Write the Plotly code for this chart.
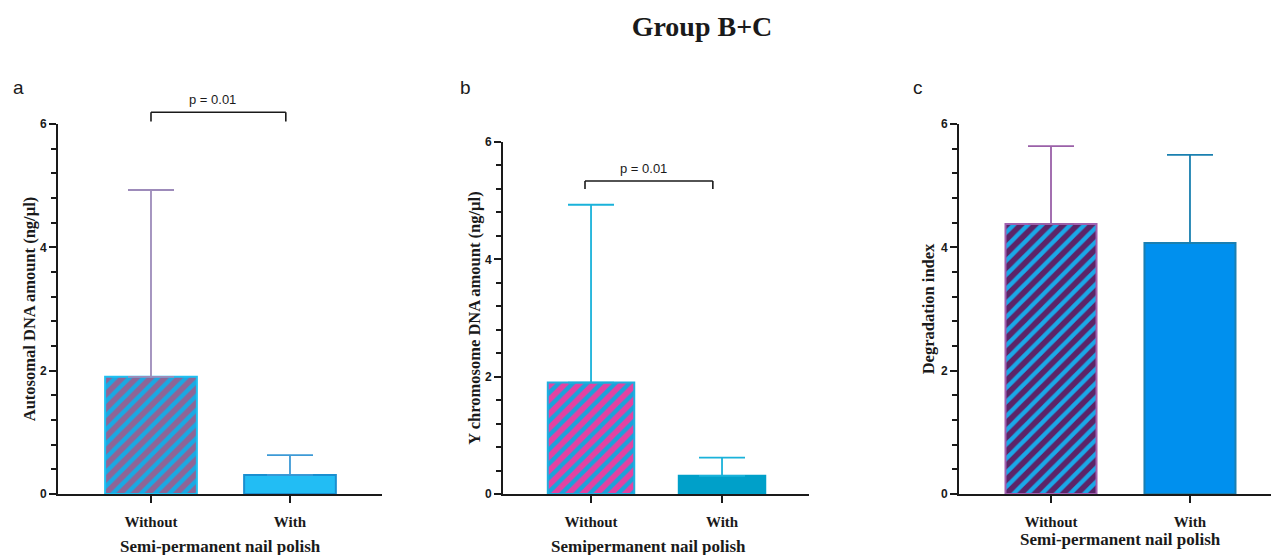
import plotly.graph_objects as go

W, H = 1271, 555

# ---------------- data ----------------
categories = ["Without", "With"]

auto_mean = [1.90, 0.31]
auto_err = [3.03, 0.32]

ychr_mean = [1.90, 0.31]
ychr_err = [3.03, 0.31]

deg_mean = [4.38, 4.07]
deg_err = [1.26, 1.43]

y_ticks = [0, 2, 4, 6]
y_tick_labels = ["0", "2", "4", "6"]

p_label = "p = 0.01"

# ---------------- styling ----------------
SERIF = "Liberation Serif"
SANS = "Liberation Sans"
INK = "#1a1a1a"

panels = [
    dict(
        means=auto_mean, errs=auto_err,
        ytitle="Autosomal DNA amount (ng/µl)",
        xtitle="Semi-permanent nail polish",
        xdom=(58, 382), xrange=(-0.669, 1.662), ydom=(124, 494), bw=0.66,
        fills=["#8e6596", "#22bdf4"], borders=["#1ec0f2", "#1a8fd0"],
        stripes=["#19a9e3", None], errc=["#9d8bba", "#3d9ad6"],
        standoff=0, xtitle_x=0.5, label="a", label_xy=(18, 88),
        bracket=dict(x0=0.0, x1=0.97, ytop=6.19, yend=6.04, ytext=6.40, xtext=0.44),
    ),
    dict(
        means=ychr_mean, errs=ychr_err,
        ytitle="Y chromosome DNA amount (ng/µl)",
        xtitle="Semipermanent nail polish",
        xdom=(503, 809), xrange=(-0.672, 1.664), ydom=(142, 494), bw=0.66,
        fills=["#e342a2", "#00a0c9"], borders=["#1fb0e0", "#00a0c9"],
        stripes=["#1aa3da", None], errc=["#1ab2da", "#1ab2da"],
        standoff=0, xtitle_x=0.44, label="b", label_xy=(465, 88),
        bracket=dict(x0=-0.046, x1=0.93, ytop=5.335, yend=5.20, ytext=5.54, xtext=0.40),
    ),
    dict(
        means=deg_mean, errs=deg_err,
        ytitle="Degradation index",
        xtitle="Semi-permanent nail polish",
        xdom=(959, 1271), xrange=(-0.662, 1.583), ydom=(124, 494), bw=0.655,
        fills=["#5c2468", "#0090ee"], borders=["#a261b0", "#1a7fb2"],
        stripes=["#1aa8e8", None], errc=["#9a60a8", "#1a80b0"],
        standoff=2, xtitle_x=0.5, label="c", label_xy=(918, 88),
        bracket=None,
    ),
]

fig = go.Figure()
annotations = []
shapes = []
layout_axes = {}

for i, p in enumerate(panels):
    n = "" if i == 0 else str(i + 1)
    xref, yref = "x" + n, "y" + n
    for j, cat in enumerate(categories):
        if p["stripes"][j]:
            pattern = dict(shape="/", fgcolor=p["stripes"][j], bgcolor=p["fills"][j],
                           size=10, solidity=0.42, fillmode="replace")
        else:
            pattern = dict(shape="")
        fig.add_trace(go.Bar(
            x=[cat], y=[p["means"][j]], width=[p["bw"]],
            marker=dict(color=p["fills"][j],
                        line=dict(color=p["borders"][j], width=2),
                        pattern=pattern),
            error_y=dict(type="data", symmetric=False, array=[p["errs"][j]],
                         arrayminus=[0], color=p["errc"][j], thickness=1.8, width=23),
            xaxis=xref, yaxis=yref, showlegend=False, hoverinfo="x+y",
        ))

    x0p, x1p = p["xdom"]
    ytp, ybp = p["ydom"]
    layout_axes["xaxis" + n] = dict(
        domain=[x0p / W, x1p / W], anchor=yref, type="category",
        categoryorder="array", categoryarray=categories,
        range=list(p["xrange"]), showline=True, linewidth=2, linecolor=INK,
        ticks="outside", ticklen=7, tickwidth=2, tickcolor=INK,
        tickfont=dict(family=SERIF, size=15, color=INK, weight="bold"),
        ticklabelstandoff=6, showgrid=False, zeroline=False, fixedrange=True,
        automargin=False,
    )
    layout_axes["yaxis" + n] = dict(
        domain=[1 - ybp / H, 1 - ytp / H], anchor=xref, range=[0, 6],
        tickmode="array", tickvals=y_ticks, ticktext=y_tick_labels,
        showline=True, linewidth=2, linecolor=INK,
        ticks="outside", ticklen=7, tickwidth=2, tickcolor=INK,
        minor=dict(dtick=0.4, tick0=0, ticks="outside", ticklen=5, tickwidth=1.5,
                   tickcolor=INK, showgrid=False),
        tickfont=dict(family=SANS, size=12, color=INK, weight="bold"),
        title=dict(text=p["ytitle"], standoff=p["standoff"],
                   font=dict(family=SERIF, size=16.5, color=INK, weight="bold")),
        showgrid=False, zeroline=False, fixedrange=True, automargin=False,
    )

    # x-axis title
    annotations.append(dict(
        text=p["xtitle"], xref=xref, yref="paper", x=p["xtitle_x"],
        y=1 - (546 if i < 2 else 539) / H,
        xanchor="center", yanchor="middle", showarrow=False,
        font=dict(family=SERIF, size=17, color=INK, weight="bold"),
    ))
    # panel letter
    lx, ly = p["label_xy"]
    annotations.append(dict(
        text=p["label"], xref="paper", yref="paper", x=lx / W, y=1 - ly / H,
        xanchor="center", yanchor="middle", showarrow=False,
        font=dict(family=SANS, size=19, color=INK),
    ))
    # significance bracket
    b = p["bracket"]
    if b:
        ydref = yref + " domain"
        to_dom = lambda v: v / 6.0
        lw = dict(color=INK, width=1.6)
        shapes.append(dict(type="line", xref=xref, yref=ydref, x0=b["x0"], x1=b["x1"],
                           y0=to_dom(b["ytop"]), y1=to_dom(b["ytop"]), line=lw))
        for xx in (b["x0"], b["x1"]):
            shapes.append(dict(type="line", xref=xref, yref=ydref, x0=xx, x1=xx,
                               y0=to_dom(b["ytop"]), y1=to_dom(b["yend"]), line=lw))
        annotations.append(dict(
            text=p_label, xref=xref, yref=ydref, x=b["xtext"], y=to_dom(b["ytext"]),
            xanchor="center", yanchor="middle", showarrow=False,
            font=dict(family=SANS, size=13, color=INK),
        ))

fig.update_layout(
    width=W, height=H, autosize=False,
    margin=dict(l=0, r=0, t=0, b=0, pad=0),
    paper_bgcolor="white", plot_bgcolor="white",
    barmode="overlay",
    title=dict(text="Group B+C", x=702 / W, xanchor="center", y=1 - 26 / H,
               yanchor="middle", yref="container",
               font=dict(family=SERIF, size=28, color=INK, weight="bold")),
    annotations=annotations, shapes=shapes,
    **layout_axes,
)

fig.write_html("out.html", config={"displayModeBar": False},
               post_script="document.body.style.margin='0';")
